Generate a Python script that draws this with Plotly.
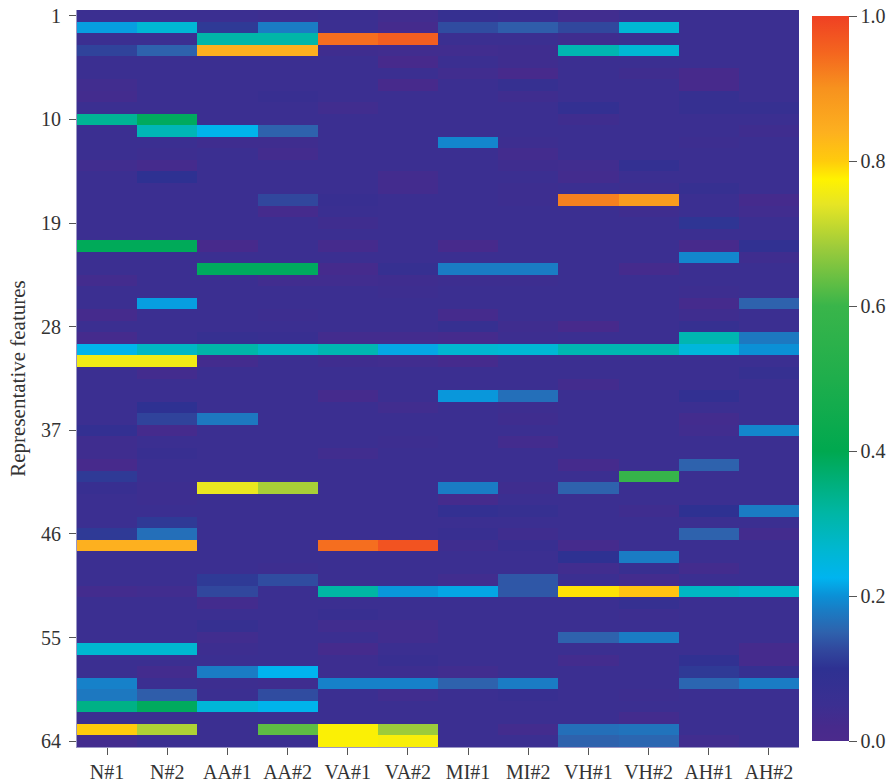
import plotly.graph_objects as go

samples = ["N#1", "N#2", "AA#1", "AA#2", "VA#1", "VA#2", "MI#1", "MI#2", "VH#1", "VH#2", "AH#1", "AH#2"]
features = list(range(1, 65))
feature_ticks = [1, 10, 19, 28, 37, 46, 55, 64]

N1 = [.05,.21,.05,.12,.05,.05,.035,.03,.05,.33,
      .05,.05,.05,.035,.05,.05,.05,.05,.05,.05,
      .39,.05,.05,.03,.05,.05,.025,.05,.025,.23,
      .755,.05,.05,.05,.05,.05,.08,.04,.04,.02,
      .11,.06,.05,.05,.05,.11,.84,.05,.05,.05,
      .03,.05,.05,.05,.05,.265,.05,.05,.185,.175,
      .345,.05,.80,.03]
N2 = [.05,.26,.05,.15,.05,.05,.05,.05,.05,.385,
      .295,.05,.045,.025,.10,.05,.05,.05,.05,.05,
      .39,.05,.05,.05,.05,.21,.05,.05,.05,.28,
      .755,.03,.05,.05,.10,.12,.025,.05,.06,.05,
      .05,.045,.045,.05,.11,.165,.84,.05,.05,.05,
      .035,.05,.05,.05,.05,.265,.05,.03,.05,.145,
      .385,.05,.695,.05]
AA1 = [.05,.11,.31,.84,.05,.05,.05,.05,.05,.05,
       .23,.04,.05,.05,.05,.05,.05,.05,.05,.05,
       .02,.05,.385,.05,.05,.05,.05,.05,.07,.31,
       .03,.05,.05,.05,.05,.175,.05,.05,.05,.05,
       .05,.745,.05,.05,.05,.05,.05,.05,.05,.11,
       .125,.03,.05,.07,.035,.045,.05,.18,.045,.05,
       .255,.05,.05,.05]
AA2 = [.045,.18,.31,.84,.05,.05,.05,.06,.05,.05,
       .15,.04,.03,.05,.05,.05,.125,.025,.05,.05,
       .05,.05,.385,.035,.05,.05,.045,.05,.06,.28,
       .05,.05,.05,.05,.05,.05,.05,.05,.05,.05,
       .05,.69,.05,.05,.05,.05,.05,.05,.045,.13,
       .05,.05,.05,.05,.05,.05,.05,.225,.04,.13,
       .23,.05,.63,.05]
VA1 = [.05,.05,.94,.04,.05,.05,.05,.05,.035,.05,
       .05,.05,.05,.05,.05,.05,.06,.055,.04,.05,
       .025,.05,.025,.035,.05,.05,.05,.05,.03,.30,
       .04,.05,.05,.025,.05,.05,.05,.05,.035,.05,
       .05,.05,.05,.05,.05,.05,.94,.05,.05,.05,
       .315,.05,.06,.035,.05,.025,.045,.045,.185,.05,
       .05,.05,.77,.77]
VA2 = [.035,.025,.96,.035,.02,.05,.02,.05,.05,.05,
       .05,.05,.05,.05,.03,.03,.05,.05,.05,.05,
       .05,.05,.07,.04,.045,.05,.05,.05,.03,.215,
       .035,.05,.05,.05,.035,.05,.05,.045,.05,.05,
       .05,.05,.05,.05,.05,.05,.975,.05,.05,.05,
       .205,.05,.05,.035,.035,.05,.06,.045,.185,.035,
       .05,.05,.68,.765]
MI1 = [.07,.13,.05,.035,.05,.035,.05,.05,.05,.05,
       .05,.19,.05,.05,.05,.05,.05,.05,.05,.05,
       .02,.05,.18,.045,.05,.05,.025,.07,.025,.265,
       .025,.05,.05,.205,.05,.05,.05,.05,.05,.05,
       .05,.18,.025,.08,.05,.06,.04,.05,.05,.035,
       .215,.05,.05,.05,.05,.05,.05,.035,.15,.05,
       .05,.05,.05,.05]
MI2 = [.06,.145,.05,.04,.04,.02,.07,.04,.05,.05,
       .05,.045,.03,.04,.05,.045,.045,.05,.05,.05,
       .05,.05,.18,.045,.05,.05,.05,.04,.045,.26,
       .05,.05,.05,.165,.045,.04,.05,.03,.05,.05,
       .05,.04,.05,.07,.05,.04,.06,.05,.05,.14,
       .14,.05,.05,.05,.05,.05,.05,.05,.18,.06,
       .05,.05,.03,.05]
VH1 = [.035,.125,.04,.30,.05,.05,.05,.05,.08,.04,
       .05,.05,.05,.035,.03,.05,.92,.05,.05,.05,
       .05,.05,.05,.05,.05,.05,.05,.02,.05,.30,
       .05,.05,.03,.05,.05,.05,.05,.05,.05,.025,
       .05,.15,.05,.05,.05,.05,.025,.10,.035,.05,
       .785,.05,.05,.05,.15,.05,.03,.05,.05,.05,
       .05,.05,.165,.15]
VH2 = [.05,.26,.05,.26,.05,.04,.05,.05,.05,.05,
       .05,.05,.05,.08,.05,.045,.88,.04,.05,.05,
       .05,.05,.025,.05,.05,.05,.05,.05,.05,.30,
       .05,.05,.05,.05,.05,.05,.05,.05,.05,.05,
       .59,.05,.05,.04,.05,.05,.05,.18,.06,.03,
       .81,.07,.045,.05,.18,.05,.05,.05,.05,.045,
       .05,.03,.17,.155]
AH1 = [.05,.05,.05,.05,.05,.02,.02,.07,.07,.05,
       .05,.045,.05,.05,.05,.07,.05,.05,.105,.05,
       .02,.19,.05,.05,.045,.025,.04,.07,.30,.25,
       .05,.05,.05,.085,.05,.03,.035,.05,.05,.15,
       .05,.05,.05,.10,.05,.15,.05,.05,.03,.05,
       .28,.05,.05,.05,.05,.05,.09,.11,.155,.05,
       .05,.05,.05,.035]
AH2 = [.05,.05,.05,.05,.05,.05,.05,.05,.07,.05,
       .04,.05,.05,.05,.05,.05,.025,.035,.05,.05,
       .09,.04,.05,.05,.05,.15,.05,.05,.175,.20,
       .05,.07,.05,.05,.05,.05,.19,.05,.05,.05,
       .05,.05,.05,.18,.05,.03,.05,.05,.05,.05,
       .27,.05,.05,.05,.05,.025,.025,.07,.18,.05,
       .05,.05,.05,.05]

columns = [N1, N2, AA1, AA2, VA1, VA2, MI1, MI2, VH1, VH2, AH1, AH2]
matrix = [[col[r] for col in columns] for r in range(len(features))]

colorscale = [
    [0.00, "#4b2a8c"], [0.02, "#472a8c"], [0.05, "#3b2f91"], [0.10, "#2e3192"],
    [0.125, "#31479d"], [0.15, "#2e62ad"], [0.18, "#1a7cc4"], [0.20, "#0b90d6"],
    [0.225, "#00b4ef"], [0.265, "#00b7d0"], [0.315, "#00b6a4"], [0.40, "#00a84f"],
    [0.50, "#1fae4c"], [0.60, "#39b54a"], [0.68, "#9ccb3b"], [0.74, "#e6e524"],
    [0.775, "#fff200"], [0.80, "#ffcb0c"], [0.84, "#fdb01f"], [0.90, "#f7921e"],
    [0.95, "#f4651f"], [1.00, "#ef4023"],
]

text_color = "#333333"
font_family = "Liberation Serif"

fig = go.Figure(
    go.Heatmap(
        z=matrix,
        x=samples,
        y=features,
        zmin=0,
        zmax=1,
        colorscale=colorscale,
        hoverongaps=False,
        colorbar=dict(
            x=1.018, xanchor="left", xpad=0,
            y=0.5, yanchor="middle", ypad=0,
            lenmode="pixels", len=725,
            thicknessmode="pixels", thickness=37,
            outlinewidth=0,
            ticks="outside", ticklen=8, tickwidth=1, tickcolor="#555555",
            tickvals=[0, 0.2, 0.4, 0.6, 0.8, 1.0],
            ticktext=["0.0", "0.2", "0.4", "0.6", "0.8", "1.0"],
            tickfont=dict(family=font_family, size=20, color=text_color),
        ),
    )
)

fig.update_layout(
    width=892,
    height=782,
    margin=dict(l=76.7, r=93, t=10, b=35, autoexpand=False),
    paper_bgcolor="white",
    plot_bgcolor="white",
    font=dict(family=font_family, size=20, color=text_color),
    xaxis=dict(
        type="category",
        ticks="outside", ticklen=7, tickwidth=1, tickcolor="#555555",
        showgrid=False, zeroline=False,
        showline=True, linecolor="#9a96c4", linewidth=1,
        tickfont=dict(family=font_family, size=20, color=text_color),
    ),
    yaxis=dict(
        range=[64.5, 0.5],
        tickvals=feature_ticks,
        ticks="outside", ticklen=7, tickwidth=1, tickcolor="#555555",
        ticklabelstandoff=4,
        showgrid=False, zeroline=False,
        showline=True, linecolor="#9a96c4", linewidth=1,
        tickfont=dict(family=font_family, size=20, color=text_color),
        title=dict(text="Representative features", standoff=9,
                   font=dict(family=font_family, size=21, color=text_color)),
    ),
)

fig.write_html(
    "out.html",
    config={"displayModeBar": False},
    post_script="document.body.style.margin='0';document.documentElement.style.overflow='hidden';",
)
